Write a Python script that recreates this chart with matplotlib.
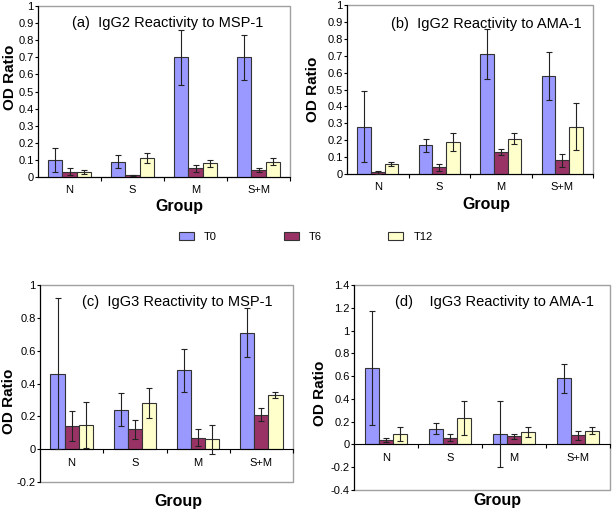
import numpy as np
import matplotlib
matplotlib.use("Agg")
import matplotlib.pyplot as plt
from matplotlib.patches import Rectangle
from matplotlib.ticker import FuncFormatter

plt.rcParams['font.family'] = ['Liberation Sans', 'DejaVu Sans']

groups = ['N', 'S', 'M', 'S+M']
series = ['T0', 'T6', 'T12']
colors = ['#9999FF', '#993366', '#FFFFCC']

# (a) IgG2 vs MSP-1
a_vals = [[0.10, 0.09, 0.70, 0.70],
          [0.03, 0.01, 0.05, 0.04],
          [0.03, 0.11, 0.08, 0.09]]
a_err = [[0.07, 0.04, 0.16, 0.13],
         [0.02, 0.004, 0.02, 0.01],
         [0.01, 0.03, 0.02, 0.02]]

# (b) IgG2 vs AMA-1
b_vals = [[0.28, 0.17, 0.71, 0.58],
          [0.01, 0.04, 0.13, 0.08],
          [0.06, 0.19, 0.21, 0.28]]
b_err = [[0.21, 0.04, 0.15, 0.14],
         [0.01, 0.02, 0.02, 0.04],
         [0.01, 0.055, 0.035, 0.14]]

# (c) IgG3 vs MSP-1
c_vals = [[0.46, 0.24, 0.48, 0.71],
          [0.14, 0.12, 0.07, 0.21],
          [0.15, 0.28, 0.06, 0.33]]
c_err = [[0.46, 0.10, 0.13, 0.15],
         [0.09, 0.06, 0.05, 0.04],
         [0.14, 0.09, 0.09, 0.02]]

# (d) IgG3 vs AMA-1
d_vals = [[0.67, 0.14, 0.09, 0.58],
          [0.04, 0.06, 0.07, 0.08],
          [0.09, 0.23, 0.11, 0.12]]
d_err = [[0.50, 0.05, 0.29, 0.13],
         [0.02, 0.03, 0.02, 0.04],
         [0.06, 0.15, 0.045, 0.03]]

panels = [
    # title, vals, err, ylim, ystep, axes rect, title pos, ylabel pos, xlabel pos
    ("(a)  IgG2 Reactivity to MSP-1", a_vals, a_err, (0, 1.0), 0.1,
     [38/614, 337/514, 252/614, 171/514], (0.135, 0.90), (-0.111, 0.585), (0.56, -0.175)),
    ("(b)  IgG2 Reactivity to AMA-1", b_vals, b_err, (0, 1.0), 0.1,
     [347/614, 340/514, 246/614, 169/514], (0.18, 0.89), (-0.138, 0.50), (0.565, -0.18)),
    ("(c)  IgG3 Reactivity to MSP-1", c_vals, c_err, (-0.2, 1.0), 0.2,
     [40/614, 32/514, 253/614, 197/514], (0.166, 0.915), (-0.123, 0.41), (0.545, -0.10)),
    ("(d)    IgG3 Reactivity to AMA-1", d_vals, d_err, (-0.4, 1.4), 0.2,
     [354/614, 24/514, 256/614, 205/514], (0.16, 0.917), (-0.133, 0.47), (0.56, -0.05)),
]

fig = plt.figure(figsize=(6.14, 5.14), dpi=100)
x = np.arange(len(groups))
w = 0.223

for title, vals, err, ylim, step, rect, tpos, ylpos, xlpos in panels:
    ax = fig.add_axes(rect)
    for i in range(3):
        ax.bar(x + (i - 1) * w, vals[i], w, color=colors[i], edgecolor='#333333',
               linewidth=0.8, label=series[i], zorder=2)
        ax.errorbar(x + (i - 1) * w, vals[i], yerr=err[i], fmt='none',
                    ecolor='#222222', elinewidth=0.8, capsize=2, capthick=0.8, zorder=3)
    ax.set_xlim(-0.5, 3.5)
    ax.set_ylim(*ylim)
    ax.set_yticks(np.arange(ylim[0], ylim[1] + step / 2, step))
    ax.yaxis.set_major_formatter(FuncFormatter(lambda v, p: '%g' % round(v, 2)))
    ax.tick_params(axis='y', labelsize=8, length=2, width=0.8, pad=1)
    # category axis crosses at zero
    ax.spines['bottom'].set_position(('data', 0))
    ax.spines['bottom'].set_color('black')
    ax.spines['left'].set_color('black')
    ax.spines['top'].set_visible(False)
    ax.spines['right'].set_visible(False)
    ax.add_patch(Rectangle((0, 0), 1, 1, transform=ax.transAxes, fill=False,
                           edgecolor='#A0A0A0', linewidth=1.0, clip_on=False, zorder=0))
    ax.set_xticks([0.5, 1.5, 2.5, 3.5])
    ax.set_xticklabels([])
    ax.set_xticks(x, minor=True)
    ax.set_xticklabels(groups, minor=True)
    ax.tick_params(axis='x', which='major', length=3, width=0.8, direction='out')
    ax.tick_params(axis='x', which='minor', length=0, labelsize=8, pad=6)
    ax.text(tpos[0], tpos[1], title, transform=ax.transAxes, fontsize=10.5,
            ha='left', va='center')
    ax.set_ylabel("OD Ratio", fontsize=11, fontweight='bold')
    ax.yaxis.set_label_coords(*ylpos)
    ax.yaxis.label.set_va('center')
    ax.set_xlabel("Group", fontsize=11.5, fontweight='bold')
    ax.xaxis.set_label_coords(*xlpos)
    ax.xaxis.label.set_va('center')
    if title.startswith("(a)"):
        handles, labels = ax.get_legend_handles_labels()

fig.legend(handles, labels, loc='center', bbox_to_anchor=(0.498, 0.539), ncol=3,
           frameon=False, fontsize=8, handlelength=1.35, handleheight=0.72,
           handletextpad=0.9, columnspacing=6.0)

fig.savefig("out.png", dpi=100)
